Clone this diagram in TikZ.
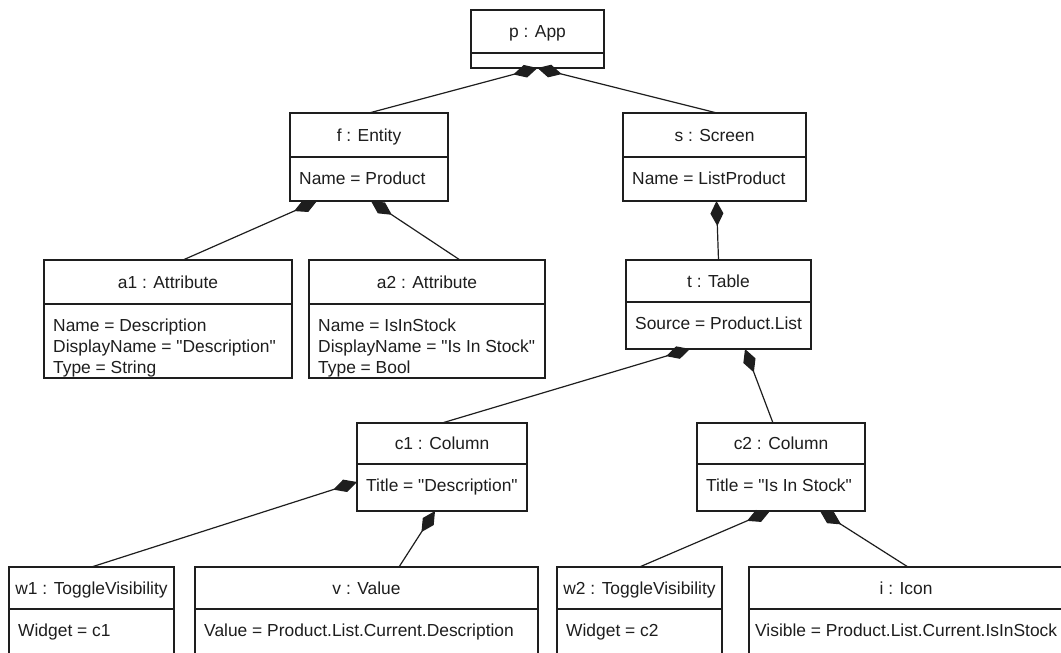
\documentclass[tikz,border=0pt]{standalone}
\usepackage{fontspec}
\setmainfont{Liberation Sans}[Ligatures=TeXOff]
\usetikzlibrary{arrows.meta}

\definecolor{ink}{HTML}{1E1E1E}

% Object box: name, left, top, right, bottom, divider y, title, attribute lines
\newcommand\objbox[8]{%
  \node[objframe, minimum width={#4-#2}, minimum height={#5-#3}] (#1)
    at ({(#2+#4)/2},{(#3+#5)/2}) {};
  \draw[divider] (#1.west |- 0,#6) -- (#1.east |- 0,#6);
  \node[objtitle] (#1-title) at ({(#2+#4)/2},{(#3+#6)/2+6.3}) {#7};
  \node[objattr] (#1-attrs) at ({#2+9},{#6+12.3}) {\strut #8};
}

\begin{document}
\begin{tikzpicture}[x=1pt, y=-1pt,
  every node/.style={font=\fontsize{17.4}{21}\selectfont, text=ink},
  objframe/.style={draw=ink, line width=1.4pt, fill=white, inner sep=0pt, outer sep=0pt, rectangle},
  divider/.style={draw=ink, line width=1.4pt},
  objtitle/.style={anchor=base, inner sep=0pt},
  objattr/.style={anchor=north west, inner sep=0pt, align=left},
  comp/.style={draw=ink, line width=1.2pt, -{Diamond[length=25pt, width=13pt, fill=ink]}}
]
\useasboundingbox (0,0) rectangle (1061,653);
\clip (0,0) rectangle (1061,653);

% application root
\objbox{p}{471}{10}{604}{68}{53}{p : App}{}

% entity branch
\objbox{f}{290}{113}{448}{201}{157}{f : Entity}{Name = Product}
\objbox{a1}{44}{260}{292}{378}{304}{a1 : Attribute}%
  {Name = Description\\DisplayName = "Description"\\Type = String}
\objbox{a2}{309}{260}{545}{378}{304}{a2 : Attribute}%
  {Name = IsInStock\\DisplayName = "Is In Stock"\\Type = Bool}

% screen branch
\objbox{s}{623}{113}{806}{201}{157}{s : Screen}{Name = ListProduct}
\objbox{t}{626}{260}{811}{349}{302}{t : Table}{Source = Product.List}
\objbox{c1}{357}{423}{527}{511}{464}{c1 : Column}{Title = "Description"}
\objbox{c2}{697}{423}{865}{511}{464}{c2 : Column}{Title = "Is In Stock"}

% widgets
\objbox{w1}{9}{567}{174}{700}{609}{w1 : ToggleVisibility}{Widget = c1}
\objbox{v}{195}{567}{538}{700}{609}{v : Value}{Value = Product.List.Current.Description}
\objbox{w2}{557}{567}{722}{700}{609}{w2 : ToggleVisibility}{Widget = c2}
\node[objframe, minimum width=314, minimum height=133] (i) at (906,633.5) {};
\draw[divider] (i.west |- 0,609) -- (i.east |- 0,609);
\node[objtitle] (i-title) at (906,594.3) {i : Icon};
\node[objattr] (i-attrs) at (755,621.3) {\strut Visible = Product.List.Current.IsInStock};

% composition links
\draw[comp] (f.north) -- (p.south);
\draw[comp] ([xshift=2.5pt]s.north) -- (p.south);
\draw[comp] ([xshift=15pt]a1.north) -- ([xshift=-52pt]f.south);
\draw[comp] ([xshift=33pt]a2.north) -- ([xshift=2pt]f.south);
\draw[comp] (t.north) -- ([xshift=2pt]s.south);
\draw[comp] (c1.north) -- ([xshift=-28.5pt]t.south);
\draw[comp] ([xshift=-8pt]c2.north) -- ([xshift=26.5pt]t.south);
\draw[comp] (w1.north) -- ([yshift=-15pt]c1.west);
\draw[comp] ([xshift=32.5pt]v.north) -- ([xshift=-7pt]c1.south);
\draw[comp] (w2.north) -- ([xshift=-11pt]c2.south);
\draw[comp] ([xshift=2pt]i.north) -- ([xshift=39pt]c2.south);
\end{tikzpicture}
\end{document}
